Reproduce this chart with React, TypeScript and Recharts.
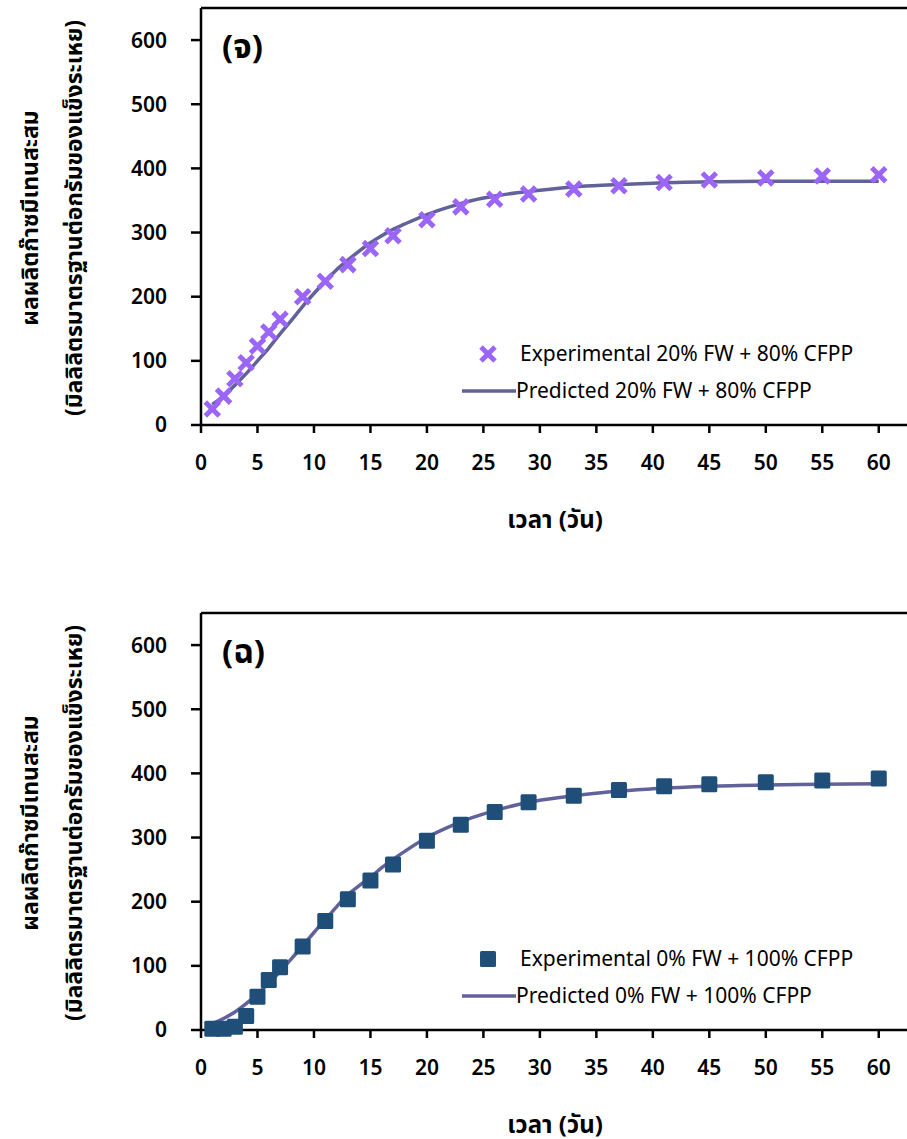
import React from "react";
import {
  ComposedChart,
  Line,
  Scatter,
  XAxis,
  YAxis,
  ReferenceLine,
} from "recharts";

// sampling days of the experiment
const days = [1, 2, 3, 4, 5, 6, 7, 9, 11, 13, 15, 17, 20, 23, 26, 29, 33, 37, 41, 45, 50, 55, 60];
// (จ) 20% FW + 80% CFPP measured
const expA = [25, 45, 72, 97, 123, 145, 165, 200, 224, 250, 275, 295, 320, 340, 352, 360, 368, 373, 378, 382, 385, 388, 390];
// (ฉ) 0% FW + 100% CFPP measured
const expB = [2, 2, 5, 22, 52, 78, 98, 130, 170, 204, 233, 258, 295, 320, 340, 355, 365, 374, 380, 383, 386, 389, 392];

// predicted curves
const fitDays = [1, 2, 3, 4, 5, 6, 7, 8, 9, 10, 11, 12, 13, 14, 15, 16, 17, 18, 20, 22, 24, 26, 28, 30, 33, 36, 40, 45, 50, 55, 60];
const fitA = [32, 45, 62, 80, 100, 120, 142, 163, 185, 205, 224, 242, 257, 271, 284, 295, 305, 313, 328, 340, 350, 357, 362, 366, 371, 374, 377, 379, 380, 380, 380];
const fitB = [10, 18, 28, 41, 56, 73, 91, 111, 131, 152, 172, 192, 211, 225, 238, 253, 266, 278, 300, 317, 331, 342, 351, 358, 365, 371, 376, 380, 382, 383, 384];

const xTicks = [0, 5, 10, 15, 20, 25, 30, 35, 40, 45, 50, 55, 60];
const yTicks = [0, 100, 200, 300, 400, 500, 600];

const FONT = "'Noto Sans', 'Noto Sans Thai', Tahoma, sans-serif";
const LINE_COLOR = "#62629a";

const toPts = (xs: number[], ys: number[]) => xs.map((x, i) => ({ x, y: ys[i] }));

const Cross = ({ cx, cy }: any) => (
  <g stroke="#9b66f7" strokeWidth={5}>
    <line x1={cx - 7} y1={cy - 7} x2={cx + 7} y2={cy + 7} />
    <line x1={cx - 7} y1={cy + 7} x2={cx + 7} y2={cy - 7} />
  </g>
);

const Square = ({ cx, cy }: any) => (
  <rect x={cx - 8} y={cy - 8} width={16} height={16} rx={1.5} fill="#1f4e79" />
);

function Panel({
  tag,
  exp,
  fit,
  expName,
  fitName,
  marker,
  top,
  height,
  marginTop,
}: any) {
  const tickStyle = { fill: "#000", fontSize: 21, fontFamily: FONT, fontWeight: 600 };
  const axisBottom = marginTop + 417;
  return (
    <div style={{ position: "absolute", left: 0, top, width: 907, height }}>
      <ComposedChart
        width={907}
        height={height}
        margin={{ top: marginTop, right: 0, bottom: height - axisBottom - 40, left: 101 }}
      >
        <XAxis
          type="number"
          dataKey="x"
          domain={[0, 62.5]}
          ticks={xTicks}
          interval={0}
          allowDataOverflow
          height={40}
          stroke="#000"
          strokeWidth={2.5}
          tickSize={8}
          tickMargin={22}
          tick={tickStyle}
        />
        <YAxis
          type="number"
          dataKey="y"
          domain={[0, 650]}
          ticks={yTicks}
          interval={0}
          width={100}
          stroke="#000"
          strokeWidth={2.5}
          tickSize={10}
          tickMargin={24}
          tick={tickStyle}
        />
        <ReferenceLine y={650} stroke="#000" strokeWidth={2.5} />
        <Line
          data={fit}
          dataKey="y"
          type="monotone"
          stroke={LINE_COLOR}
          strokeWidth={3.5}
          dot={false}
          isAnimationActive={false}
        />
        <Scatter
          data={exp}
          dataKey="y"
          shape={marker === "cross" ? Cross : Square}
          isAnimationActive={false}
        />
      </ComposedChart>
      <div
        style={{
          position: "absolute",
          left: 458,
          top: marginTop + 327,
          fontFamily: FONT,
          fontSize: 21,
          color: "#000",
          lineHeight: "37px",
          whiteSpace: "nowrap",
        }}
      >
        <div style={{ display: "flex", alignItems: "center" }}>
          <svg width={58} height={20}>
            {marker === "cross" ? <Cross cx={30} cy={10} /> : <Square cx={30} cy={10} />}
          </svg>
          <span style={{ marginLeft: 4 }}>{expName}</span>
        </div>
        <div style={{ display: "flex", alignItems: "center" }}>
          <svg width={58} height={20}>
            <line x1={4} y1={10} x2={58} y2={10} stroke={LINE_COLOR} strokeWidth={3.5} />
          </svg>
          <span>{fitName}</span>
        </div>
      </div>
      <svg
        width={907}
        height={height}
        style={{ position: "absolute", left: 0, top: 0, pointerEvents: "none" }}
        fontFamily={FONT}
        fontWeight="bold"
      >
        <text x={222} y={marginTop + 50} fontSize={33}>{tag}</text>
        <text x={555} y={axisBottom + 103} fontSize={24} textAnchor="middle">
          เวลา (วัน)
        </text>
        <text
          transform={`translate(38, ${marginTop + 210}) rotate(-90)`}
          fontSize={23}
          textAnchor="middle"
        >
          ผลผลิตก๊าซมีเทนสะสม
        </text>
        <text
          transform={`translate(82, ${marginTop + 210}) rotate(-90)`}
          fontSize={23}
          textAnchor="middle"
        >
          (มิลลิลิตรมาตรฐานต่อกรัมของแข็งระเหย)
        </text>
      </svg>
    </div>
  );
}

export default function App() {
  return (
    <div style={{ position: "absolute", left: 0, top: 0, width: 907, height: 1139, background: "#fff" }}>
      <Panel
        tag="(จ)"
        exp={toPts(days, expA)}
        fit={toPts(fitDays, fitA)}
        expName="Experimental 20% FW + 80% CFPP"
        fitName="Predicted 20% FW + 80% CFPP"
        marker="cross"
        top={0}
        height={545}
        marginTop={8}
      />
      <Panel
        tag="(ฉ)"
        exp={toPts(days, expB)}
        fit={toPts(fitDays, fitB)}
        expName="Experimental 0% FW + 100% CFPP"
        fitName="Predicted 0% FW + 100% CFPP"
        marker="square"
        top={600}
        height={539}
        marginTop={13}
      />
    </div>
  );
}
